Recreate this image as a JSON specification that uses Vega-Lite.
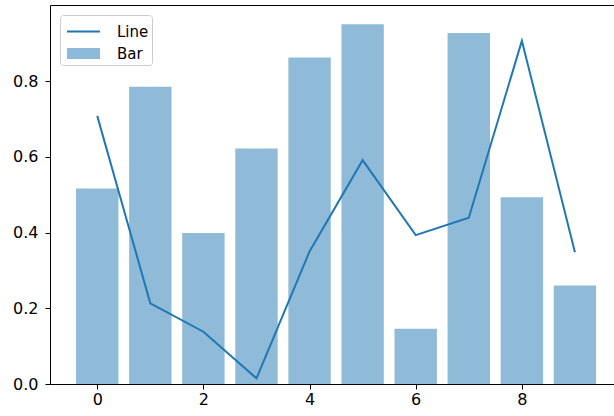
{
  "$schema": "https://vega.github.io/schema/vega-lite/v6.json",
  "width": 564,
  "height": 379,
  "autosize": {"type": "none"},
  "padding": {"left": 50, "top": 5, "right": 0, "bottom": 32},
  "background": "white",
  "config": {
    "view": {"stroke": null},
    "axis": {
      "grid": false,
      "domainColor": "#000000",
      "domainWidth": 1,
      "tickColor": "#000000",
      "tickWidth": 1,
      "tickSize": 5,
      "labelColor": "#000000",
      "labelFont": "DejaVu Sans",
      "labelFontSize": 16,
      "title": null
    }
  },
  "data": {
    "values": [
      {"x": 0, "bar": 0.516, "line": 0.708},
      {"x": 1, "bar": 0.785, "line": 0.213},
      {"x": 2, "bar": 0.399, "line": 0.138},
      {"x": 3, "bar": 0.622, "line": 0.015},
      {"x": 4, "bar": 0.862, "line": 0.350},
      {"x": 5, "bar": 0.950, "line": 0.591},
      {"x": 6, "bar": 0.146, "line": 0.393},
      {"x": 7, "bar": 0.927, "line": 0.439},
      {"x": 8, "bar": 0.493, "line": 0.906},
      {"x": 9, "bar": 0.260, "line": 0.348}
    ]
  },
  "layer": [
    {
      "mark": {"type": "bar", "width": 42.4, "opacity": 0.5},
      "encoding": {
        "x": {
          "field": "x", "type": "quantitative",
          "scale": {"domain": [-0.89, 9.736], "nice": false, "zero": false, "padding": 0},
          "axis": {"orient": "bottom", "values": [0, 2, 4, 6, 8], "format": "d", "labelFlush": false, "labelPadding": 2}
        },
        "y": {
          "field": "bar", "type": "quantitative",
          "scale": {"domain": [0, 1.0007], "nice": false, "zero": true, "padding": 0},
          "axis": {"orient": "left", "values": [0, 0.2, 0.4, 0.6, 0.8], "format": ".1f", "labelFlush": false, "labelPadding": 7}
        },
        "color": {
          "datum": "Bar",
          "type": "nominal",
          "scale": {"domain": ["Line", "Bar"], "range": ["#1f77b4", "#1f77b4"]},
          "legend": {
            "title": null,
            "orient": "none",
            "legendX": 10,
            "legendY": 10,
            "direction": "vertical",
            "padding": 3,
            "rowPadding": 0,
            "symbolSize": 625,
            "symbolOffset": 7,
            "labelOffset": 20,
            "labelFont": "DejaVu Sans",
            "labelFontSize": 15,
            "labelColor": "#000000",
            "strokeColor": "#cccccc",
            "fillColor": "rgba(255,255,255,0.8)",
            "cornerRadius": 3,
            "encode": {
              "symbols": {
                "update": {
                  "shape": {"signal": "datum.value === 'Line' ? 'M-1.32,0H1.32' : 'M-1.32,-0.44H1.32V0.44H-1.32Z'"},
                  "fill": {"signal": "datum.value === 'Line' ? 'transparent' : '#8fbbd9'"},
                  "stroke": {"signal": "datum.value === 'Line' ? '#1f77b4' : 'transparent'"},
                  "strokeWidth": {"value": 2},
                  "opacity": {"signal": "datum.value === 'Line' ? 1 : 0.5"},
                  "fillOpacity": {"signal": "datum.value === 'Line' ? 0 : 1"},
                  "strokeOpacity": {"signal": "datum.value === 'Line' ? 1 : 0"}
                }
              }
            }
          }
        }
      }
    },
    {
      "mark": {"type": "line", "strokeWidth": 2},
      "encoding": {
        "x": {
          "field": "x", "type": "quantitative",
          "axis": {"orient": "top", "labels": false, "ticks": false, "domain": true}
        },
        "y": {"field": "line", "type": "quantitative", "axis": null},
        "color": {
          "datum": "Line",
          "type": "nominal",
          "legend": {
            "title": null,
            "orient": "none",
            "legendX": 10,
            "legendY": 10,
            "direction": "vertical",
            "padding": 3,
            "rowPadding": 0,
            "symbolSize": 625,
            "symbolOffset": 7,
            "labelOffset": 20,
            "labelFont": "DejaVu Sans",
            "labelFontSize": 15,
            "labelColor": "#000000",
            "strokeColor": "#cccccc",
            "fillColor": "rgba(255,255,255,0.8)",
            "cornerRadius": 3,
            "encode": {
              "symbols": {
                "update": {
                  "shape": {"signal": "datum.value === 'Line' ? 'M-1.32,0H1.32' : 'M-1.32,-0.44H1.32V0.44H-1.32Z'"},
                  "fill": {"signal": "datum.value === 'Line' ? 'transparent' : '#8fbbd9'"},
                  "stroke": {"signal": "datum.value === 'Line' ? '#1f77b4' : 'transparent'"},
                  "strokeWidth": {"value": 2},
                  "opacity": {"signal": "datum.value === 'Line' ? 1 : 0.5"},
                  "fillOpacity": {"signal": "datum.value === 'Line' ? 0 : 1"},
                  "strokeOpacity": {"signal": "datum.value === 'Line' ? 1 : 0"}
                }
              }
            }
          }
        }
      }
    }
  ],
  "resolve": {"axis": {"x": "independent", "y": "independent"}}
}
